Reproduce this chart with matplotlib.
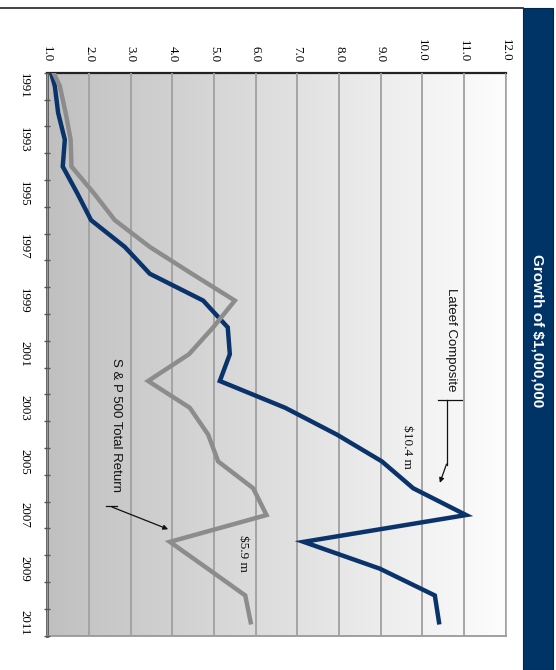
import matplotlib
matplotlib.use("Agg")
import matplotlib.pyplot as plt
import numpy as np
from matplotlib.colors import LinearSegmentedColormap
from matplotlib.patches import Rectangle
from matplotlib.lines import Line2D

# growth of $1m, year-end values in $ millions (1990 = starting point)
years = list(range(1990, 2012))
lateef = [1.0, 1.18, 1.26, 1.42, 1.37, 1.72, 2.05, 2.86, 3.46, 4.74, 5.33,
          5.38, 5.14, 6.71, 7.95, 9.03, 9.78, 11.05, 7.15, 8.98, 10.30, 10.40]
sp500 = [1.0, 1.30, 1.44, 1.56, 1.58, 2.12, 2.62, 3.46, 4.47, 5.50, 4.98,
         4.40, 3.42, 4.42, 4.86, 5.10, 5.94, 6.26, 3.94, 4.85, 5.75, 5.88]
value_ticks = [1.0, 2.0, 3.0, 4.0, 5.0, 6.0, 7.0, 8.0, 9.0, 10.0, 11.0, 12.0]
year_labels = years[1::2]

NAVY = "#0b336b"
GREY = "#8c8c8c"
SERIF = ["Liberation Serif", "DejaVu Serif"]
SANS = ["Liberation Sans", "DejaVu Sans"]

fig = plt.figure(figsize=(5.56, 6.70), dpi=100)
ax = fig.add_axes([0.0851, 0.0512, 0.8244, 0.8403])

# chart is printed turned on its side: values run across, years run down
y_lo, y_hi = years[1] - 0.5, years[-1] + 0.5
bg = LinearSegmentedColormap.from_list("bg", ["#c0c0c0", "#fdfdfd"])
ax.imshow(np.linspace(0, 1, 256).reshape(1, -1), cmap=bg, aspect="auto",
          extent=[value_ticks[0], value_ticks[-1], y_hi, y_lo], zorder=0)

ax.plot(lateef, years, color=NAVY, lw=3.2, solid_joinstyle="miter", zorder=3)
ax.plot(sp500, years, color=GREY, lw=3.2, solid_joinstyle="miter", zorder=4)

ax.set_xlim(value_ticks[0], value_ticks[-1])
ax.set_ylim(y_hi, y_lo)

ax.xaxis.tick_top()
ax.set_xticks(value_ticks)
ax.set_xticklabels([f"{v:.1f}" for v in value_ticks], family=SERIF, fontsize=9.3)
ax.tick_params(axis="x", length=0, pad=7.7, labelrotation=-90)
ax.set_yticks(year_labels)
ax.set_yticklabels([str(y) for y in year_labels], family=SERIF, fontsize=9.3)
ax.set_yticks(np.arange(y_lo, y_hi + 0.1, 1.0), minor=True)
ax.tick_params(axis="y", which="major", length=0, pad=12.5, labelrotation=-90)
ax.tick_params(axis="y", which="minor", length=5, width=1, direction="inout",
               color="#555555")
for lab in ax.get_yticklabels():
    lab.set_va("center")
ax.grid(axis="x", color="#a0a0a0", lw=1.3, zorder=1)
ax.set_axisbelow(False)
for ln in ax.get_xgridlines():
    ln.set_zorder(1)

ax.spines["top"].set_color("#222222")
ax.spines["top"].set_linewidth(1.6)
ax.spines["left"].set_color("#555555")
ax.spines["left"].set_linewidth(2)
ax.spines["bottom"].set_color("#999999")
ax.spines["bottom"].set_linewidth(1.3)
ax.spines["right"].set_color("#aaaaaa")
ax.spines["right"].set_linewidth(1.3)

# callouts
ax.text(10.69, 2000.45, "Lateef Composite", rotation=-90, ha="center",
        va="center", family=SANS, fontsize=9.5, color="#111111")
ax.plot([10.38, 10.96], [2002.71, 2002.71], color="#111111", lw=0.9)
ax.plot([10.58, 10.58], [2002.71, 2005.15], color="#111111", lw=0.9)
ax.annotate("", xy=(10.42, 2005.8), xytext=(10.58, 2005.1),
            arrowprops=dict(arrowstyle="-|>", color="#111111", lw=0.9,
                            mutation_scale=7, shrinkA=0, shrinkB=0))
ax.text(9.62, 2004.45, "$10.4 m", rotation=-90, ha="center", va="center",
        family=SERIF, fontsize=9.5, color="#111111")

ax.text(2.65, 2003.65, "S & P 500 Total Return", rotation=-90, ha="center",
        va="center", family=SANS, fontsize=9.5, color="#111111")
ax.plot([2.41, 2.68], [2006.67, 2006.67], color="#111111", lw=0.9)
ax.annotate("", xy=(3.90, 2007.53), xytext=(2.55, 2006.7),
            arrowprops=dict(arrowstyle="-|>", color="#111111", lw=0.9,
                            mutation_scale=7, shrinkA=0, shrinkB=0))
ax.text(5.70, 2008.42, "$5.9 m", rotation=-90, ha="center", va="center",
        family=SERIF, fontsize=9.5, color="#111111")

# title band on the right edge and the rule along the top
fig.patches.append(Rectangle((0.9406, 0.0), 0.054, 0.988, transform=fig.transFigure,
                             facecolor="#003366", edgecolor="#00264d", lw=0.8,
                             zorder=0))
fig.add_artist(Line2D([0.0, 0.9406], [0.988, 0.988], color="#222222", lw=1.2))
fig.text(0.9676, 0.506, "Growth of $1,000,000", rotation=-90, ha="center",
         va="center", color="white", fontsize=11, fontweight="bold",
         family=["Liberation Sans Narrow", "Liberation Sans", "DejaVu Sans"])

fig.savefig("out.png", dpi=100)
